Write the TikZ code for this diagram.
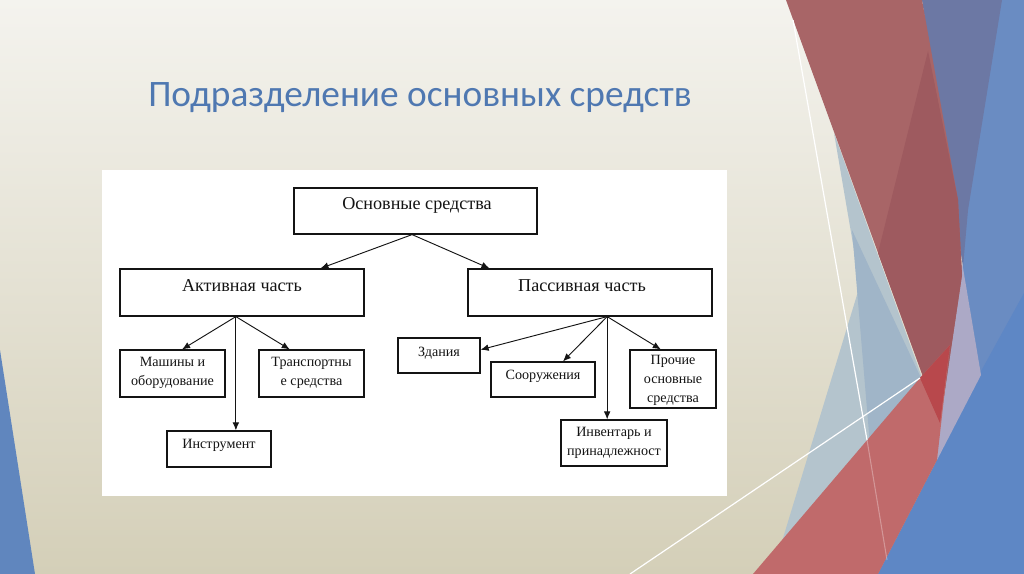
\documentclass[tikz,border=0pt]{standalone}
\usepackage{fontspec}
\setmainfont{Liberation Serif}
\newfontfamily\titlefont{Carlito}
\usetikzlibrary{fit,calc,arrows.meta}
\definecolor{bgtop}{RGB}{244,243,238}
\definecolor{bgbot}{RGB}{212,207,184}
\definecolor{titleblue}{RGB}{79,120,177}
\definecolor{leftblue}{RGB}{96,134,190}
\definecolor{blueA}{RGB}{106,140,194}
\definecolor{blueB}{RGB}{94,135,197}
\definecolor{slate}{RGB}{108,120,164}
\definecolor{lav}{RGB}{172,169,198}
\definecolor{pale}{RGB}{180,196,205}
\definecolor{paleM}{RGB}{160,181,200}
\definecolor{redA}{RGB}{168,101,103}
\definecolor{redD}{RGB}{158,90,95}
\definecolor{redL}{RGB}{192,106,107}
\definecolor{redB}{RGB}{184,72,76}
\definecolor{ink}{RGB}{20,20,20}
\begin{document}
\begin{tikzpicture}[x=0.75pt,y=-0.75pt,
  box/.style={draw=ink, line width=0.9pt, fill=white, inner sep=0pt},
  arr/.style={draw=ink, line width=0.7pt, -{Latex[length=6pt,width=5pt]}},
  lblbig/.style={font=\fontsize{13.6}{15}\selectfont, text=ink, inner sep=0pt},
  lblsm/.style={font=\fontsize{10.6}{14.3}\selectfont, text=ink, inner sep=0pt, align=center}]
\useasboundingbox (0,0) rectangle (1024,574);
% background
\fill[top color=bgtop, bottom color=bgbot] (0,0) rectangle (1024,574);
\fill[leftblue] (0,350) -- (35,574) -- (0,574) -- cycle;
% right decoration
\fill[blueA] (955,0) -- (1024,0) -- (1024,574) -- (878,574) -- (937,460) -- (963,267) -- cycle;
\fill[blueB] (1024,293) -- (1024,574) -- (878,574) -- (937,460) -- (980,373) -- cycle;
\fill[slate] (922,0) -- (1002,0) -- (968,210) -- (963,267) -- cycle;
\fill[lav] (962,262) -- (981,375) -- (937,460) -- (940,423) -- cycle;
\fill[pale] (834,133) -- (930,400) -- (780,548) -- (860,285) -- cycle;
\fill[paleM] (852,230) -- (921,378) -- (870,445) -- cycle;
\fill[redA] (786,0) -- (922,0) -- (958,200) -- (962,275) -- (940,423) -- cycle;
\fill[redD] (928,51) -- (958,200) -- (962,275) -- (940,423) -- (878,253) -- cycle;
\fill[redL] (753,574) -- (920,378) -- (950,345) -- (937,460) -- (878,574) -- cycle;
\fill[redB] (920,378) -- (950,345) -- (940,423) -- cycle;
\draw[white, line width=0.9pt] (793,20) -- (867,440);
\draw[white, opacity=0.3, line width=0.8pt] (867,440) -- (887,560);
\draw[white, line width=0.9pt] (630,574) -- (920,378);
% title
\node[anchor=base west, inner sep=0pt, text=titleblue, font=\titlefont\fontsize{28}{33}\selectfont] (title) at (148,107) {Подразделение основных средств};
% panel
\node[fill=white, inner sep=0pt, fit={(102,170) (727,496)}] (panel) {};
% boxes
\node[box, fit={(294,188) (537,234)}] (main) {};
\node[box, fit={(120,269) (364,316)}] (act) {};
\node[box, fit={(468,269) (712,316)}] (pas) {};
\node[box, fit={(120,350) (225,397)}] (mash) {};
\node[box, fit={(259,350) (364,397)}] (trans) {};
\node[box, fit={(167,431) (271,467)}] (instr) {};
\node[box, fit={(398,338) (480,373)}] (zd) {};
\node[box, fit={(491,362) (595,397)}] (soor) {};
\node[box, fit={(630,350) (716,408)}] (proch) {};
\node[box, fit={(561,420) (667,466)}] (inv) {};
% labels
\node[lblbig] (tmain) at (417,205) {Основные средства};
\node[lblbig] (tact) at (242,286) {Активная часть};
\node[lblbig] (tpas) at (582,286) {Пассивная часть};
\node[lblsm] (tmash) at (172.5,373) {Машины и\\оборудование};
\node[lblsm] (ttrans) at (311.5,373) {Транспортны\\е средства};
\node[lblsm] (tinstr) at (219,445) {Инструмент};
\node[lblsm] (tzd) at (439,353) {Здания};
\node[lblsm] (tsoor) at (543,376) {Сооружения};
\node[lblsm] (tproch) at (673,380) {Прочие\\основные\\средства};
\node[lblsm] (tinv) at (614,443) {Инвентарь и\\принадлежност};
% connectors
\coordinate (jm) at ($(main.south west)!0.486!(main.south east)$);
\coordinate (ja) at ($(act.south west)!0.475!(act.south east)$);
\coordinate (jp) at ($(pas.south west)!0.57!(pas.south east)$);
\draw[arr] (jm) -- ($(act.north west)!0.82!(act.north east)$);
\draw[arr] (jm) -- ($(pas.north west)!0.09!(pas.north east)$);
\draw[arr] (ja) -- ($(mash.north west)!0.59!(mash.north east)$);
\draw[arr] (ja) -- ($(trans.north west)!0.295!(trans.north east)$);
\draw[arr] (ja) -- (ja |- instr.north);
\draw[arr] (jp) -- ($(zd.north east)!0.34!(zd.south east)$);
\draw[arr] (jp) -- ($(soor.north west)!0.69!(soor.north east)$);
\draw[arr] (jp) -- (jp |- inv.north);
\draw[arr] (jp) -- ($(proch.north west)!0.36!(proch.north east)$);
\end{tikzpicture}
\end{document}
